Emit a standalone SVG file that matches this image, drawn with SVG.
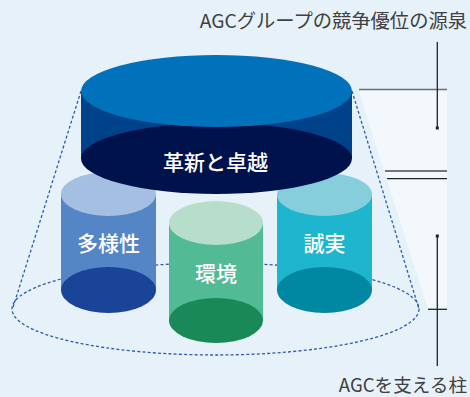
<svg xmlns="http://www.w3.org/2000/svg" width="470" height="397" viewBox="0 0 470 397">
  <style>
    .cap { font-family: "Noto Sans CJK JP", "Noto Sans", sans-serif; fill: #404040; }
    .lbl { font-family: "Noto Sans CJK JP", "Noto Sans", sans-serif; font-size: 21px; font-weight: 500; fill: #ffffff; text-anchor: middle; }
    .dash { fill: none; stroke: #2D5CA8; stroke-width: 1.3; stroke-dasharray: 3 2.2; }
    .rule { stroke: #222222; stroke-width: 1.3; fill: none; }
  </style>

  <!-- background -->
  <rect x="0" y="0" width="470" height="397" fill="#E7F1FA"/>

  <!-- side panel and scale marks -->
  <g id="scale">
    <polygon points="358,89 447,89 447,309 428,309" fill="#F3F8FD"/>
    <line x1="359" y1="89.5" x2="447" y2="89.5" stroke="#6E6E6E" stroke-width="1.5"/>
    <line x1="385" y1="171" x2="447" y2="171" stroke="#767676" stroke-width="2"/>
    <line x1="387" y1="178.7" x2="447" y2="178.7" class="rule"/>
    <line x1="428" y1="309.3" x2="447" y2="309.3" class="rule"/>
    <line x1="437.3" y1="42" x2="437.3" y2="128" class="rule"/>
    <rect x="435.8" y="126.5" width="3" height="3" fill="#222222"/>
    <line x1="437.3" y1="236" x2="437.3" y2="366" class="rule"/>
    <rect x="435.8" y="234.5" width="3" height="3" fill="#222222"/>
  </g>

  <!-- dashed outline -->
  <g id="connectors">
    <line class="dash" x1="81" y1="91" x2="12.5" y2="309"/>
    <line class="dash" x1="352" y1="91" x2="419" y2="309"/>
    <ellipse class="dash" cx="215.5" cy="309" rx="203.5" ry="46"/>
  </g>

  <!-- pillars -->
  <g id="pillar-diversity">
    <rect x="61" y="194" width="95" height="96" fill="#5486C5"/>
    <ellipse cx="108.5" cy="290" rx="47.5" ry="23" fill="#1A4498"/>
    <ellipse cx="108.5" cy="194" rx="47.5" ry="22" fill="#A5BFE3"/>
    <text class="lbl" x="108.5" y="251">多様性</text>
  </g>

  <g id="pillar-environment">
    <rect x="169" y="223" width="94" height="97" fill="#52BB95"/>
    <ellipse cx="216" cy="320.5" rx="47" ry="22.5" fill="#1A8958"/>
    <ellipse cx="216" cy="223" rx="47" ry="22" fill="#B6DECB"/>
    <text class="lbl" x="216" y="281">環境</text>
  </g>

  <g id="pillar-integrity">
    <rect x="277" y="194.5" width="95" height="95.5" fill="#1DB6CE"/>
    <ellipse cx="324.5" cy="290" rx="47.5" ry="23" fill="#0087A2"/>
    <ellipse cx="324.5" cy="194.5" rx="47.5" ry="21.5" fill="#86CEDB"/>
    <text class="lbl" x="324.5" y="251">誠実</text>
  </g>

  <!-- top disc -->
  <g id="innovation">
    <rect x="81" y="91" width="271" height="67.5" fill="#00428A"/>
    <ellipse cx="216.5" cy="158.5" rx="135.5" ry="35.5" fill="#00124C"/>
    <ellipse cx="216.5" cy="91" rx="135.5" ry="36" fill="#0071BB"/>
    <text class="lbl" x="215.5" y="170">革新と卓越</text>
  </g>

  <!-- captions -->
  <text class="cap" x="467" y="28.3" font-size="19.3" text-anchor="end">AGCグループの競争優位の源泉</text>
  <text class="cap" x="467" y="392.3" font-size="18.6" text-anchor="end">AGCを支える柱</text>
</svg>
